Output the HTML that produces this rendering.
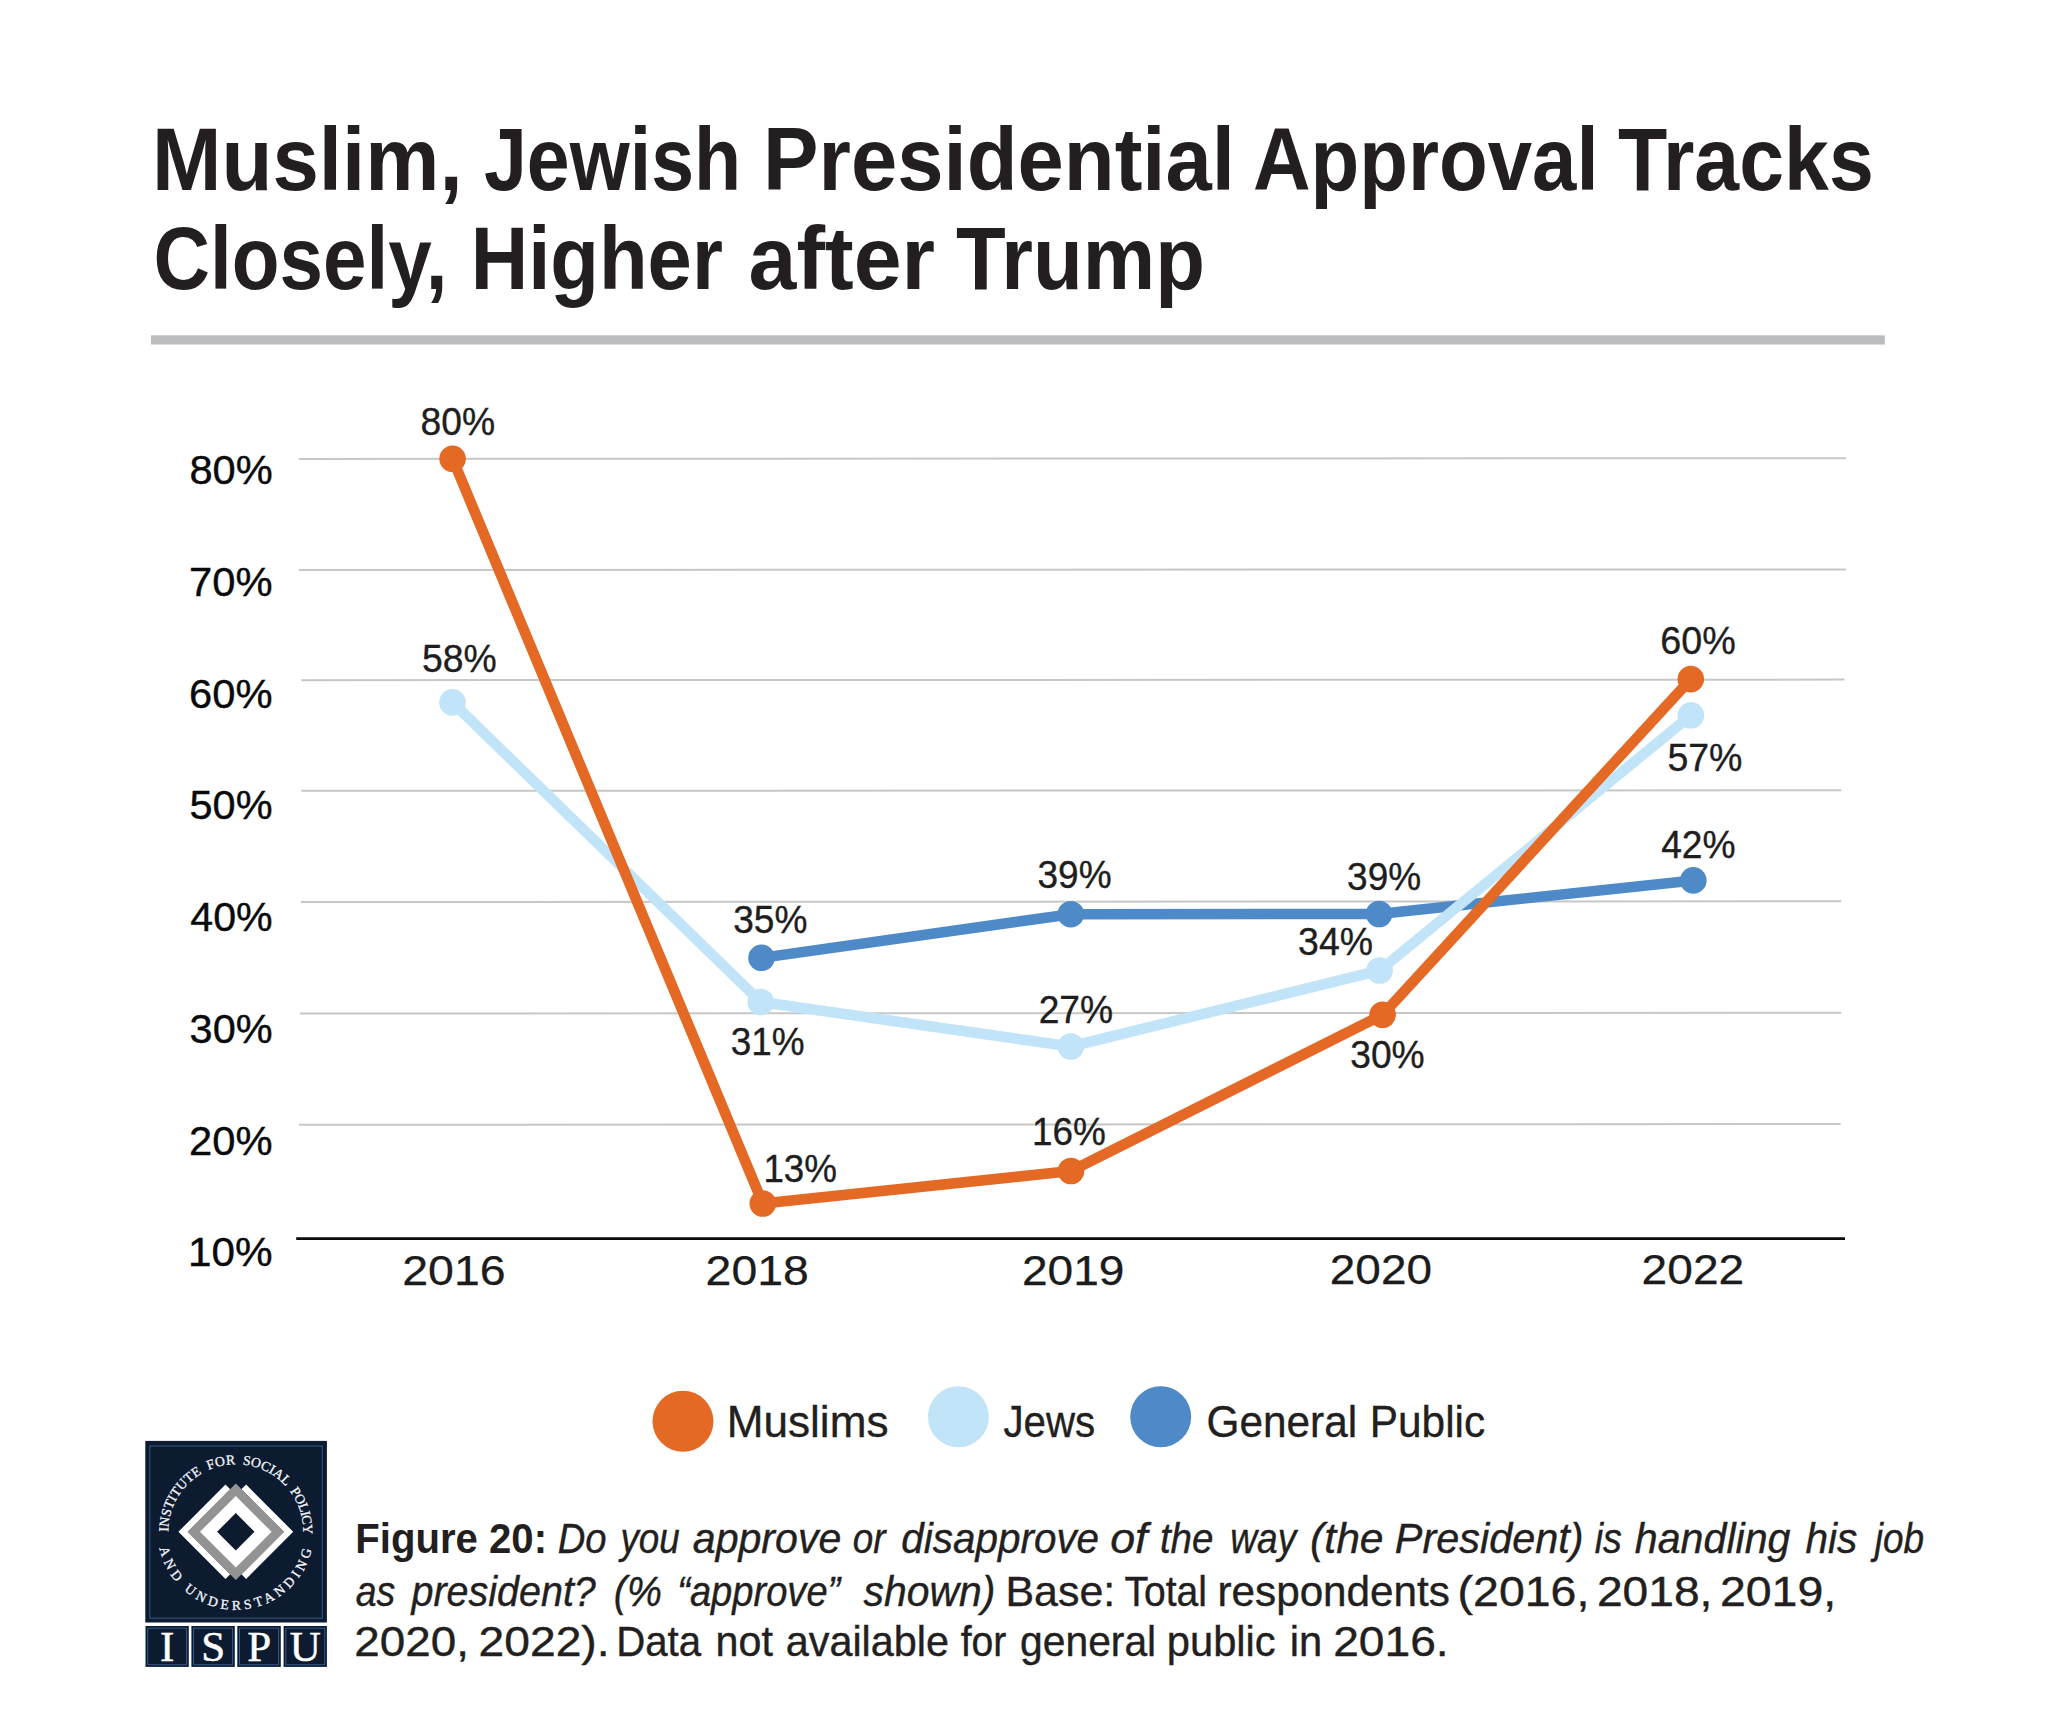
<!DOCTYPE html>
<html lang="en"><head><meta charset="utf-8"><title>Muslim, Jewish Presidential Approval Tracks Closely, Higher after Trump</title>
<style>html,body{margin:0;padding:0;background:#fff}svg{display:block}</style></head>
<body>
<svg width="2048" height="1717" viewBox="0 0 2048 1717">
<rect width="2048" height="1717" fill="#ffffff"/>
<text x="152.0" y="190.0" font-family='"Liberation Sans", sans-serif' font-size="88.6" font-weight="bold" textLength="310.6" lengthAdjust="spacingAndGlyphs" fill="#231f20">Muslim,</text>
<text x="484.0" y="190.0" font-family='"Liberation Sans", sans-serif' font-size="88.6" font-weight="bold" textLength="257.1" lengthAdjust="spacingAndGlyphs" fill="#231f20">Jewish</text>
<text x="763.1" y="190.0" font-family='"Liberation Sans", sans-serif' font-size="88.6" font-weight="bold" textLength="471.8" lengthAdjust="spacingAndGlyphs" fill="#231f20">Presidential</text>
<text x="1253.0" y="190.0" font-family='"Liberation Sans", sans-serif' font-size="88.6" font-weight="bold" textLength="345.6" lengthAdjust="spacingAndGlyphs" fill="#231f20">Approval</text>
<text x="1618.1" y="190.0" font-family='"Liberation Sans", sans-serif' font-size="88.6" font-weight="bold" textLength="255.7" lengthAdjust="spacingAndGlyphs" fill="#231f20">Tracks</text>
<text x="153.6" y="288.5" font-family='"Liberation Sans", sans-serif' font-size="88.6" font-weight="bold" textLength="294.0" lengthAdjust="spacingAndGlyphs" fill="#231f20">Closely,</text>
<text x="470.7" y="288.5" font-family='"Liberation Sans", sans-serif' font-size="88.6" font-weight="bold" textLength="252.2" lengthAdjust="spacingAndGlyphs" fill="#231f20">Higher</text>
<text x="748.5" y="288.5" font-family='"Liberation Sans", sans-serif' font-size="88.6" font-weight="bold" textLength="186.6" lengthAdjust="spacingAndGlyphs" fill="#231f20">after</text>
<text x="956.1" y="288.5" font-family='"Liberation Sans", sans-serif' font-size="88.6" font-weight="bold" textLength="248.8" lengthAdjust="spacingAndGlyphs" fill="#231f20">Trump</text>
<rect x="151" y="335.3" width="1733.8" height="9.2" fill="#bbbcbe"/>
<line x1="298.9" y1="458.9" x2="1846" y2="458.2" stroke="#c7c7c7" stroke-width="2"/>
<line x1="298.9" y1="570.0" x2="1846" y2="569.4" stroke="#c7c7c7" stroke-width="2"/>
<line x1="301.2" y1="680.2" x2="1844.5" y2="679.6" stroke="#c7c7c7" stroke-width="2"/>
<line x1="301.3" y1="790.8" x2="1841.4" y2="790.3" stroke="#c7c7c7" stroke-width="2"/>
<line x1="301" y1="902.0" x2="1841.4" y2="901.3" stroke="#c7c7c7" stroke-width="2"/>
<line x1="300" y1="1013.5" x2="1841.4" y2="1012.8" stroke="#c7c7c7" stroke-width="2"/>
<line x1="299" y1="1124.8" x2="1840.6" y2="1124.0" stroke="#c7c7c7" stroke-width="2"/>
<line x1="296.2" y1="1238.7" x2="1845" y2="1238.7" stroke="#0c0c0c" stroke-width="2.7"/>
<text x="189.4" y="484.1" font-family='"Liberation Sans", sans-serif' font-size="41.5" textLength="83.2" lengthAdjust="spacingAndGlyphs" fill="#0a0a0a" stroke="#0a0a0a" stroke-width="0.4">80%</text>
<text x="189.1" y="596.1" font-family='"Liberation Sans", sans-serif' font-size="41.5" textLength="83.5" lengthAdjust="spacingAndGlyphs" fill="#0a0a0a" stroke="#0a0a0a" stroke-width="0.4">70%</text>
<text x="189.1" y="707.5" font-family='"Liberation Sans", sans-serif' font-size="41.5" textLength="83.5" lengthAdjust="spacingAndGlyphs" fill="#0a0a0a" stroke="#0a0a0a" stroke-width="0.4">60%</text>
<text x="189.5" y="819.4" font-family='"Liberation Sans", sans-serif' font-size="41.5" textLength="83.0" lengthAdjust="spacingAndGlyphs" fill="#0a0a0a" stroke="#0a0a0a" stroke-width="0.4">50%</text>
<text x="190.3" y="930.5" font-family='"Liberation Sans", sans-serif' font-size="41.5" textLength="82.3" lengthAdjust="spacingAndGlyphs" fill="#0a0a0a" stroke="#0a0a0a" stroke-width="0.4">40%</text>
<text x="189.6" y="1043.3" font-family='"Liberation Sans", sans-serif' font-size="41.5" textLength="83.0" lengthAdjust="spacingAndGlyphs" fill="#0a0a0a" stroke="#0a0a0a" stroke-width="0.4">30%</text>
<text x="189.1" y="1155.0" font-family='"Liberation Sans", sans-serif' font-size="41.5" textLength="83.5" lengthAdjust="spacingAndGlyphs" fill="#0a0a0a" stroke="#0a0a0a" stroke-width="0.4">20%</text>
<text x="188.0" y="1266.1" font-family='"Liberation Sans", sans-serif' font-size="41.5" textLength="84.6" lengthAdjust="spacingAndGlyphs" fill="#0a0a0a" stroke="#0a0a0a" stroke-width="0.4">10%</text>
<text x="402.2" y="1284.8" font-family='"Liberation Sans", sans-serif' font-size="42" textLength="103.4" lengthAdjust="spacingAndGlyphs" fill="#1c1c1c" stroke="#1c1c1c" stroke-width="0.25">2016</text>
<text x="705.6" y="1284.6" font-family='"Liberation Sans", sans-serif' font-size="42" textLength="103.2" lengthAdjust="spacingAndGlyphs" fill="#1c1c1c" stroke="#1c1c1c" stroke-width="0.25">2018</text>
<text x="1021.9" y="1284.5" font-family='"Liberation Sans", sans-serif' font-size="42" textLength="102.6" lengthAdjust="spacingAndGlyphs" fill="#1c1c1c" stroke="#1c1c1c" stroke-width="0.25">2019</text>
<text x="1329.8" y="1284.3" font-family='"Liberation Sans", sans-serif' font-size="42" textLength="102.2" lengthAdjust="spacingAndGlyphs" fill="#1c1c1c" stroke="#1c1c1c" stroke-width="0.25">2020</text>
<text x="1641.6" y="1284.1" font-family='"Liberation Sans", sans-serif' font-size="42" textLength="102.6" lengthAdjust="spacingAndGlyphs" fill="#1c1c1c" stroke="#1c1c1c" stroke-width="0.25">2022</text>
<polyline fill="none" stroke="#4e8ac8" stroke-width="10.6" stroke-linejoin="round" points="761.5,957.8 1070.8,914.2 1379.1,914.0 1693.3,880.4"/>
<circle cx="761.5" cy="957.8" r="13.3" fill="#4e8ac8"/>
<circle cx="1070.8" cy="914.2" r="13.3" fill="#4e8ac8"/>
<circle cx="1379.1" cy="914.0" r="13.3" fill="#4e8ac8"/>
<circle cx="1693.3" cy="880.4" r="13.3" fill="#4e8ac8"/>
<polyline fill="none" stroke="#c2e4f8" stroke-width="10.6" stroke-linejoin="round" points="452.5,702.4 760.8,1002.0 1070.8,1046.5 1379.6,970.5 1690.9,715.3"/>
<circle cx="452.5" cy="702.4" r="13.3" fill="#c2e4f8"/>
<circle cx="760.8" cy="1002.0" r="13.3" fill="#c2e4f8"/>
<circle cx="1070.8" cy="1046.5" r="13.3" fill="#c2e4f8"/>
<circle cx="1379.6" cy="970.5" r="13.3" fill="#c2e4f8"/>
<circle cx="1690.9" cy="715.3" r="13.3" fill="#c2e4f8"/>
<polyline fill="none" stroke="#e46925" stroke-width="10.6" stroke-linejoin="round" points="452.6,458.8 762.8,1203.5 1071.0,1171.0 1382.6,1014.8 1690.8,679.1"/>
<circle cx="452.6" cy="458.8" r="13.3" fill="#e46925"/>
<circle cx="762.8" cy="1203.5" r="13.3" fill="#e46925"/>
<circle cx="1071.0" cy="1171.0" r="13.3" fill="#e46925"/>
<circle cx="1382.6" cy="1014.8" r="13.3" fill="#e46925"/>
<circle cx="1690.8" cy="679.1" r="13.3" fill="#e46925"/>
<text x="420.6" y="434.8" font-family='"Liberation Sans", sans-serif' font-size="37.9" textLength="74.6" lengthAdjust="spacingAndGlyphs" fill="#1e1e1e" stroke="#1e1e1e" stroke-width="0.35">80%</text>
<text x="422.1" y="672.2" font-family='"Liberation Sans", sans-serif' font-size="37.9" textLength="74.7" lengthAdjust="spacingAndGlyphs" fill="#1e1e1e" stroke="#1e1e1e" stroke-width="0.35">58%</text>
<text x="733.2" y="933.0" font-family='"Liberation Sans", sans-serif' font-size="37.9" textLength="74.2" lengthAdjust="spacingAndGlyphs" fill="#1e1e1e" stroke="#1e1e1e" stroke-width="0.35">35%</text>
<text x="730.8" y="1055.0" font-family='"Liberation Sans", sans-serif' font-size="37.9" textLength="73.9" lengthAdjust="spacingAndGlyphs" fill="#1e1e1e" stroke="#1e1e1e" stroke-width="0.35">31%</text>
<text x="763.4" y="1182.4" font-family='"Liberation Sans", sans-serif' font-size="37.9" textLength="73.6" lengthAdjust="spacingAndGlyphs" fill="#1e1e1e" stroke="#1e1e1e" stroke-width="0.35">13%</text>
<text x="1037.5" y="888.3" font-family='"Liberation Sans", sans-serif' font-size="37.9" textLength="74.1" lengthAdjust="spacingAndGlyphs" fill="#1e1e1e" stroke="#1e1e1e" stroke-width="0.35">39%</text>
<text x="1347.1" y="890.0" font-family='"Liberation Sans", sans-serif' font-size="37.9" textLength="74.1" lengthAdjust="spacingAndGlyphs" fill="#1e1e1e" stroke="#1e1e1e" stroke-width="0.35">39%</text>
<text x="1298.1" y="954.9" font-family='"Liberation Sans", sans-serif' font-size="37.9" textLength="74.9" lengthAdjust="spacingAndGlyphs" fill="#1e1e1e" stroke="#1e1e1e" stroke-width="0.35">34%</text>
<text x="1038.7" y="1022.6" font-family='"Liberation Sans", sans-serif' font-size="37.9" textLength="74.4" lengthAdjust="spacingAndGlyphs" fill="#1e1e1e" stroke="#1e1e1e" stroke-width="0.35">27%</text>
<text x="1350.2" y="1068.4" font-family='"Liberation Sans", sans-serif' font-size="37.9" textLength="74.5" lengthAdjust="spacingAndGlyphs" fill="#1e1e1e" stroke="#1e1e1e" stroke-width="0.35">30%</text>
<text x="1031.9" y="1144.6" font-family='"Liberation Sans", sans-serif' font-size="37.9" textLength="73.9" lengthAdjust="spacingAndGlyphs" fill="#1e1e1e" stroke="#1e1e1e" stroke-width="0.35">16%</text>
<text x="1660.2" y="654.3" font-family='"Liberation Sans", sans-serif' font-size="37.9" textLength="75.5" lengthAdjust="spacingAndGlyphs" fill="#1e1e1e" stroke="#1e1e1e" stroke-width="0.35">60%</text>
<text x="1667.4" y="770.8" font-family='"Liberation Sans", sans-serif' font-size="37.9" textLength="75.1" lengthAdjust="spacingAndGlyphs" fill="#1e1e1e" stroke="#1e1e1e" stroke-width="0.35">57%</text>
<text x="1661.2" y="857.8" font-family='"Liberation Sans", sans-serif' font-size="37.9" textLength="74.4" lengthAdjust="spacingAndGlyphs" fill="#1e1e1e" stroke="#1e1e1e" stroke-width="0.35">42%</text>
<circle cx="683" cy="1421.3" r="30.5" fill="#e46925"/>
<circle cx="958.4" cy="1416.8" r="30.5" fill="#c2e4f8"/>
<circle cx="1160.7" cy="1416.8" r="30.5" fill="#4e8ac8"/>
<text x="726.7" y="1436.7" font-family='"Liberation Sans", sans-serif' font-size="43.8" textLength="161.8" lengthAdjust="spacingAndGlyphs" fill="#231f20" stroke="#231f20" stroke-width="0.35">Muslims</text>
<text x="1003.4" y="1436.7" font-family='"Liberation Sans", sans-serif' font-size="43.8" textLength="91.8" lengthAdjust="spacingAndGlyphs" fill="#231f20" stroke="#231f20" stroke-width="0.35">Jews</text>
<text x="1206.5" y="1436.7" font-family='"Liberation Sans", sans-serif' font-size="43.8" textLength="150.6" lengthAdjust="spacingAndGlyphs" fill="#231f20" stroke="#231f20" stroke-width="0.35">General</text>
<text x="1369.8" y="1436.7" font-family='"Liberation Sans", sans-serif' font-size="43.8" textLength="115.4" lengthAdjust="spacingAndGlyphs" fill="#231f20" stroke="#231f20" stroke-width="0.35">Public</text>
<text x="355.3" y="1552.7" font-family='"Liberation Sans", sans-serif' font-size="42.2" font-weight="bold" textLength="191.7" lengthAdjust="spacingAndGlyphs" fill="#231f20">Figure 20:</text>
<text x="557.7" y="1552.7" font-family='"Liberation Sans", sans-serif' font-size="42.2" font-style="italic" textLength="48.9" lengthAdjust="spacingAndGlyphs" fill="#231f20" stroke="#231f20" stroke-width="0.4">Do</text>
<text x="620.4" y="1552.7" font-family='"Liberation Sans", sans-serif' font-size="42.2" font-style="italic" textLength="59.3" lengthAdjust="spacingAndGlyphs" fill="#231f20" stroke="#231f20" stroke-width="0.4">you</text>
<text x="692.8" y="1552.7" font-family='"Liberation Sans", sans-serif' font-size="42.2" font-style="italic" textLength="148.5" lengthAdjust="spacingAndGlyphs" fill="#231f20" stroke="#231f20" stroke-width="0.4">approve</text>
<text x="852.7" y="1552.7" font-family='"Liberation Sans", sans-serif' font-size="42.2" font-style="italic" textLength="32.8" lengthAdjust="spacingAndGlyphs" fill="#231f20" stroke="#231f20" stroke-width="0.4">or</text>
<text x="901.3" y="1552.7" font-family='"Liberation Sans", sans-serif' font-size="42.2" font-style="italic" textLength="197.8" lengthAdjust="spacingAndGlyphs" fill="#231f20" stroke="#231f20" stroke-width="0.4">disapprove</text>
<text x="1110.2" y="1552.7" font-family='"Liberation Sans", sans-serif' font-size="42.2" font-style="italic" textLength="37.4" lengthAdjust="spacingAndGlyphs" fill="#231f20" stroke="#231f20" stroke-width="0.4">of</text>
<text x="1159.9" y="1552.7" font-family='"Liberation Sans", sans-serif' font-size="42.2" font-style="italic" textLength="53.6" lengthAdjust="spacingAndGlyphs" fill="#231f20" stroke="#231f20" stroke-width="0.4">the</text>
<text x="1230.2" y="1552.7" font-family='"Liberation Sans", sans-serif' font-size="42.2" font-style="italic" textLength="66.0" lengthAdjust="spacingAndGlyphs" fill="#231f20" stroke="#231f20" stroke-width="0.4">way</text>
<text x="1310.1" y="1552.7" font-family='"Liberation Sans", sans-serif' font-size="42.2" font-style="italic" textLength="73.5" lengthAdjust="spacingAndGlyphs" fill="#231f20" stroke="#231f20" stroke-width="0.4">(the</text>
<text x="1394.8" y="1552.7" font-family='"Liberation Sans", sans-serif' font-size="42.2" font-style="italic" textLength="188.8" lengthAdjust="spacingAndGlyphs" fill="#231f20" stroke="#231f20" stroke-width="0.4">President)</text>
<text x="1594.7" y="1552.7" font-family='"Liberation Sans", sans-serif' font-size="42.2" font-style="italic" textLength="27.2" lengthAdjust="spacingAndGlyphs" fill="#231f20" stroke="#231f20" stroke-width="0.4">is</text>
<text x="1634.8" y="1552.7" font-family='"Liberation Sans", sans-serif' font-size="42.2" font-style="italic" textLength="155.7" lengthAdjust="spacingAndGlyphs" fill="#231f20" stroke="#231f20" stroke-width="0.4">handling</text>
<text x="1805.5" y="1552.7" font-family='"Liberation Sans", sans-serif' font-size="42.2" font-style="italic" textLength="51.9" lengthAdjust="spacingAndGlyphs" fill="#231f20" stroke="#231f20" stroke-width="0.4">his</text>
<text x="1874.8" y="1552.7" font-family='"Liberation Sans", sans-serif' font-size="42.2" font-style="italic" textLength="49.3" lengthAdjust="spacingAndGlyphs" fill="#231f20" stroke="#231f20" stroke-width="0.4">job</text>
<text x="355.8" y="1605.5" font-family='"Liberation Sans", sans-serif' font-size="42.2" font-style="italic" textLength="39.5" lengthAdjust="spacingAndGlyphs" fill="#231f20" stroke="#231f20" stroke-width="0.4">as</text>
<text x="411.5" y="1605.5" font-family='"Liberation Sans", sans-serif' font-size="42.2" font-style="italic" textLength="184.3" lengthAdjust="spacingAndGlyphs" fill="#231f20" stroke="#231f20" stroke-width="0.4">president?</text>
<text x="613.8" y="1605.5" font-family='"Liberation Sans", sans-serif' font-size="42.2" font-style="italic" textLength="48.0" lengthAdjust="spacingAndGlyphs" fill="#231f20" stroke="#231f20" stroke-width="0.4">(%</text>
<text x="677.2" y="1605.5" font-family='"Liberation Sans", sans-serif' font-size="42.2" font-style="italic" textLength="163.1" lengthAdjust="spacingAndGlyphs" fill="#231f20" stroke="#231f20" stroke-width="0.4">“approve”</text>
<text x="863.5" y="1605.5" font-family='"Liberation Sans", sans-serif' font-size="42.2" font-style="italic" textLength="131.8" lengthAdjust="spacingAndGlyphs" fill="#231f20" stroke="#231f20" stroke-width="0.4">shown)</text>
<text x="1005.5" y="1605.5" font-family='"Liberation Sans", sans-serif' font-size="42.2" textLength="109.7" lengthAdjust="spacingAndGlyphs" fill="#231f20" stroke="#231f20" stroke-width="0.4">Base:</text>
<text x="1124.5" y="1605.5" font-family='"Liberation Sans", sans-serif' font-size="42.2" textLength="82.4" lengthAdjust="spacingAndGlyphs" fill="#231f20" stroke="#231f20" stroke-width="0.4">Total</text>
<text x="1217.5" y="1605.5" font-family='"Liberation Sans", sans-serif' font-size="42.2" textLength="232.4" lengthAdjust="spacingAndGlyphs" fill="#231f20" stroke="#231f20" stroke-width="0.4">respondents</text>
<text x="1457.6" y="1605.5" font-family='"Liberation Sans", sans-serif' font-size="42.2" textLength="131.7" lengthAdjust="spacingAndGlyphs" fill="#231f20" stroke="#231f20" stroke-width="0.4">(2016,</text>
<text x="1596.9" y="1605.5" font-family='"Liberation Sans", sans-serif' font-size="42.2" textLength="115.5" lengthAdjust="spacingAndGlyphs" fill="#231f20" stroke="#231f20" stroke-width="0.4">2018,</text>
<text x="1719.9" y="1605.5" font-family='"Liberation Sans", sans-serif' font-size="42.2" textLength="116.3" lengthAdjust="spacingAndGlyphs" fill="#231f20" stroke="#231f20" stroke-width="0.4">2019,</text>
<text x="354.3" y="1656.2" font-family='"Liberation Sans", sans-serif' font-size="42.2" textLength="114.6" lengthAdjust="spacingAndGlyphs" fill="#231f20" stroke="#231f20" stroke-width="0.4">2020,</text>
<text x="478.5" y="1656.2" font-family='"Liberation Sans", sans-serif' font-size="42.2" textLength="131.1" lengthAdjust="spacingAndGlyphs" fill="#231f20" stroke="#231f20" stroke-width="0.4">2022).</text>
<text x="616.2" y="1656.2" font-family='"Liberation Sans", sans-serif' font-size="42.2" textLength="84.9" lengthAdjust="spacingAndGlyphs" fill="#231f20" stroke="#231f20" stroke-width="0.4">Data</text>
<text x="715.6" y="1656.2" font-family='"Liberation Sans", sans-serif' font-size="42.2" textLength="57.3" lengthAdjust="spacingAndGlyphs" fill="#231f20" stroke="#231f20" stroke-width="0.4">not</text>
<text x="785.7" y="1656.2" font-family='"Liberation Sans", sans-serif' font-size="42.2" textLength="163.3" lengthAdjust="spacingAndGlyphs" fill="#231f20" stroke="#231f20" stroke-width="0.4">available</text>
<text x="960.7" y="1656.2" font-family='"Liberation Sans", sans-serif' font-size="42.2" textLength="45.7" lengthAdjust="spacingAndGlyphs" fill="#231f20" stroke="#231f20" stroke-width="0.4">for</text>
<text x="1020.1" y="1656.2" font-family='"Liberation Sans", sans-serif' font-size="42.2" textLength="136.1" lengthAdjust="spacingAndGlyphs" fill="#231f20" stroke="#231f20" stroke-width="0.4">general</text>
<text x="1166.8" y="1656.2" font-family='"Liberation Sans", sans-serif' font-size="42.2" textLength="108.9" lengthAdjust="spacingAndGlyphs" fill="#231f20" stroke="#231f20" stroke-width="0.4">public</text>
<text x="1289.7" y="1656.2" font-family='"Liberation Sans", sans-serif' font-size="42.2" textLength="32.5" lengthAdjust="spacingAndGlyphs" fill="#231f20" stroke="#231f20" stroke-width="0.4">in</text>
<text x="1333.2" y="1656.2" font-family='"Liberation Sans", sans-serif' font-size="42.2" textLength="115.5" lengthAdjust="spacingAndGlyphs" fill="#231f20" stroke="#231f20" stroke-width="0.4">2016.</text>
<rect x="145.3" y="1440.9" width="181.6" height="181.6" fill="#0d1b30"/>
<rect x="149.9" y="1446.0" width="172.4" height="172.2" fill="none" stroke="#35598a" stroke-width="1"/>
<polygon fill="#ffffff" points="178.4,1531.8 225.5,1484.6 230.2,1489.3 187.8,1531.8 230.2,1574.3 225.5,1579.0"/>
<polygon fill="#ffffff" points="293.2,1531.8 246.1,1484.6 241.4,1489.3 283.8,1531.8 241.4,1574.3 246.1,1579.0"/>
<polygon points="187.5,1531.8 235.8,1483.5 284.1,1531.8 235.8,1580.1" fill="#939393"/>
<polygon points="200.0,1531.8 235.8,1496.0 271.6,1531.8 235.8,1567.6" fill="#ffffff"/>
<polygon points="217.1,1531.8 235.8,1513.1 254.5,1531.8 235.8,1550.5" fill="#0d1b30"/>
<path id="arcTop" d="M 168.30,1531.80 A 67.5 67.5 0 1 1 303.30,1531.80 A 67.5 67.5 0 1 1 168.30,1531.80" fill="none"/>
<path id="arcBot" d="M 157.80,1531.80 A 78.0 78.0 0 1 0 313.80,1531.80 A 78.0 78.0 0 1 0 157.80,1531.80" fill="none"/>
<text font-family='"Liberation Serif", serif' font-size="13.7" fill="#f4f6fa" stroke="#f4f6fa" stroke-width="0.3" letter-spacing="0.06"><textPath href="#arcTop" startOffset="0.0">INSTITUTE</textPath></text>
<text font-family='"Liberation Serif", serif' font-size="13.7" fill="#f4f6fa" stroke="#f4f6fa" stroke-width="0.3" letter-spacing="0.52"><textPath href="#arcTop" startOffset="77.8">FOR</textPath></text>
<text font-family='"Liberation Serif", serif' font-size="13.7" fill="#f4f6fa" stroke="#f4f6fa" stroke-width="0.3" letter-spacing="0.02"><textPath href="#arcTop" startOffset="112.7">SOCIAL</textPath></text>
<text font-family='"Liberation Serif", serif' font-size="13.7" fill="#f4f6fa" stroke="#f4f6fa" stroke-width="0.3" letter-spacing="-0.61"><textPath href="#arcTop" startOffset="168.0">POLICY</textPath></text>
<text font-family='"Liberation Serif", serif' font-size="13.7" fill="#f4f6fa" stroke="#f4f6fa" stroke-width="0.3" letter-spacing="4.42"><textPath href="#arcBot" startOffset="16.2">AND</textPath></text>
<text font-family='"Liberation Serif", serif' font-size="13.7" fill="#f4f6fa" stroke="#f4f6fa" stroke-width="0.3" letter-spacing="3.74"><textPath href="#arcBot" startOffset="65.5">UNDERSTANDING</textPath></text>
<rect x="145.5" y="1626.0" width="43.3" height="40.9" fill="#0d1b30"/>
<rect x="147.7" y="1628.2" width="38.9" height="36.5" fill="none" stroke="#35598a" stroke-width="1"/>
<text x="167.2" y="1660.6" font-family='"Liberation Serif", serif' font-size="43" text-anchor="middle" fill="#ffffff" stroke="#ffffff" stroke-width="0.5">I</text>
<rect x="191.4" y="1626.0" width="43.4" height="40.9" fill="#0d1b30"/>
<rect x="193.6" y="1628.2" width="39.0" height="36.5" fill="none" stroke="#35598a" stroke-width="1"/>
<text x="213.1" y="1660.6" font-family='"Liberation Serif", serif' font-size="43" text-anchor="middle" fill="#ffffff" stroke="#ffffff" stroke-width="0.5">S</text>
<rect x="237.3" y="1626.0" width="43.5" height="40.9" fill="#0d1b30"/>
<rect x="239.5" y="1628.2" width="39.1" height="36.5" fill="none" stroke="#35598a" stroke-width="1"/>
<text x="259.1" y="1660.6" font-family='"Liberation Serif", serif' font-size="43" text-anchor="middle" fill="#ffffff" stroke="#ffffff" stroke-width="0.5">P</text>
<rect x="283.6" y="1626.0" width="43.3" height="40.9" fill="#0d1b30"/>
<rect x="285.8" y="1628.2" width="38.9" height="36.5" fill="none" stroke="#35598a" stroke-width="1"/>
<text x="305.2" y="1660.6" font-family='"Liberation Serif", serif' font-size="43" text-anchor="middle" fill="#ffffff" stroke="#ffffff" stroke-width="0.5">U</text>
</svg>
</body></html>
